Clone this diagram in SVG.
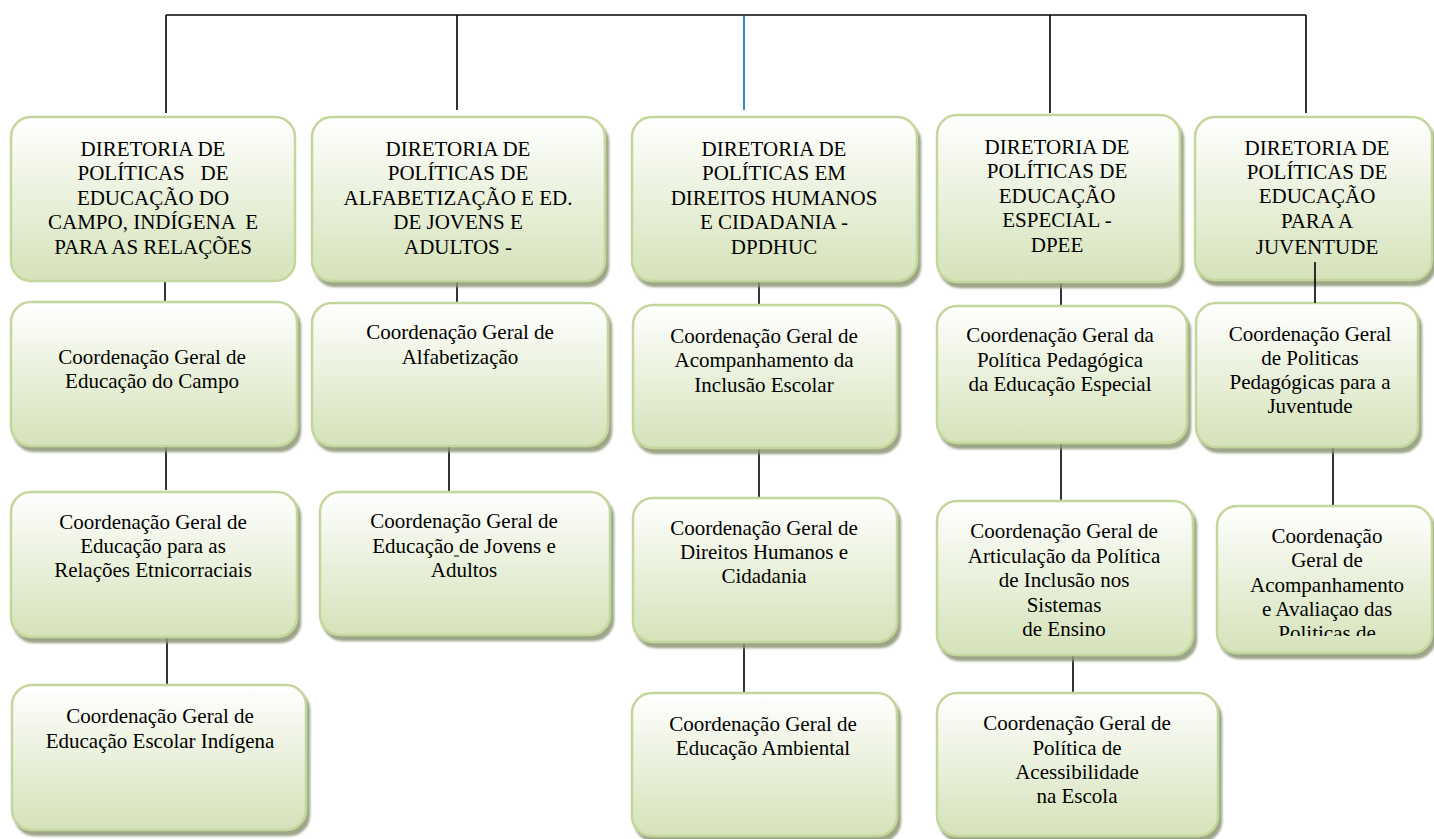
<svg xmlns="http://www.w3.org/2000/svg" width="1434" height="839" viewBox="0 0 1434 839">
<style>
.box{fill:url(#g);stroke:#c3d69b;stroke-width:2.5}
.sh{filter:url(#ds)}
.t{font-family:"Liberation Serif","Times New Roman",serif;font-size:21px;fill:#000;text-anchor:middle;white-space:pre}
.ln{stroke:#000;stroke-width:1.6;fill:none}
.bl{stroke:#0070c0;stroke-width:1.6;fill:none}
</style>
<defs>
<linearGradient id="g" x1="0" y1="0" x2="0" y2="1">
<stop offset="0" stop-color="#ffffff"/>
<stop offset="0.35" stop-color="#f0f5e6"/>
<stop offset="1" stop-color="#d5e2b9"/>
</linearGradient>
<filter id="ds" x="-5%" y="-5%" width="115%" height="120%">
<feDropShadow dx="3" dy="5" stdDeviation="1.2" flood-color="#8d9574" flood-opacity="0.85"/>
</filter>
<clipPath id="clipc5">
<rect x="1200" y="500" width="234" height="136"/>
</clipPath>
</defs>
<rect width="1434" height="839" fill="#fff"/>

<g id="connectors">
<path class="ln" d="M166 15H1306"/>
<path class="ln" d="M166 15V113"/>
<path class="ln" d="M457 15V110"/>
<path class="bl" d="M744 15V110"/>
<path class="ln" d="M1050 15V113"/>
<path class="ln" d="M1306 15V113"/>
<path class="ln" d="M165 281V302"/>
<path class="ln" d="M166 446V490"/>
<path class="ln" d="M167 637V685"/>
<path class="ln" d="M457 281V303"/>
<path class="ln" d="M449 446V492"/>
<path class="ln" d="M759 281V305"/>
<path class="ln" d="M759 448V498"/>
<path class="ln" d="M744 642V693"/>
<path class="ln" d="M1061 282V306"/>
<path class="ln" d="M1061 443V501"/>
<path class="ln" d="M1073 655V693"/>
<path class="ln" d="M1333 447V506"/>
</g>

<g id="dir1">
<rect class="box" x="11" y="117" width="284" height="164" rx="20"/>
<text class="t" xml:space="preserve"><tspan x="153" y="156">DIRETORIA DE</tspan><tspan x="153" y="180">POLÍTICAS   DE</tspan><tspan x="153" y="205">EDUCAÇÃO DO</tspan><tspan x="153" y="229">CAMPO, INDÍGENA  E</tspan><tspan x="153" y="254">PARA AS RELAÇÕES</tspan></text>
</g>
<g id="c1a">
<rect class="box sh" x="11" y="302" width="286" height="144" rx="20"/>
<text class="t"><tspan x="152" y="364">Coordenação Geral de</tspan><tspan x="152" y="388">Educação do Campo</tspan></text>
</g>
<g id="c1b">
<rect class="box sh" x="11" y="492" width="286" height="145" rx="20"/>
<text class="t"><tspan x="153" y="529">Coordenação Geral de</tspan><tspan x="153" y="553">Educação para as</tspan><tspan x="153" y="577">Relações Etnicorraciais</tspan></text>
</g>
<g id="c1c">
<rect class="box sh" x="12" y="685" width="294" height="145" rx="20"/>
<text class="t"><tspan x="160" y="723">Coordenação Geral de</tspan><tspan x="160" y="748">Educação Escolar Indígena</tspan></text>
</g>

<g id="dir2">
<rect class="box sh" x="312" y="117" width="293" height="164" rx="20"/>
<text class="t"><tspan x="458" y="156">DIRETORIA DE</tspan><tspan x="458" y="180">POLÍTICAS DE</tspan><tspan x="458" y="205">ALFABETIZAÇÃO E ED.</tspan><tspan x="458" y="229">DE JOVENS E</tspan><tspan x="458" y="254">ADULTOS -</tspan></text>
</g>
<g id="c2a">
<rect class="box sh" x="312" y="303" width="296" height="143" rx="20"/>
<text class="t"><tspan x="460" y="339">Coordenação Geral de</tspan><tspan x="460" y="364">Alfabetização</tspan></text>
</g>
<g id="c2b">
<rect class="box sh" x="320" y="492" width="290" height="143" rx="20"/>
<text class="t"><tspan x="464" y="528">Coordenação Geral de</tspan><tspan x="464" y="553">Educação de Jovens e</tspan><tspan x="464" y="577">Adultos</tspan></text>
<path d="M454 556H459" stroke="#000" stroke-width="1"/>
</g>

<g id="dir3">
<rect class="box sh" x="632" y="117" width="285" height="164" rx="20"/>
<text class="t"><tspan x="774" y="156">DIRETORIA DE</tspan><tspan x="774" y="180">POLÍTICAS EM</tspan><tspan x="774" y="205">DIREITOS HUMANOS</tspan><tspan x="774" y="229">E CIDADANIA -</tspan><tspan x="774" y="254">DPDHUC</tspan></text>
</g>
<g id="c3a">
<rect class="box sh" x="633" y="305" width="264" height="143" rx="20"/>
<text class="t"><tspan x="764" y="343">Coordenação Geral de</tspan><tspan x="764" y="367">Acompanhamento da</tspan><tspan x="764" y="392">Inclusão Escolar</tspan></text>
</g>
<g id="c3b">
<rect class="box sh" x="633" y="498" width="264" height="144" rx="20"/>
<text class="t"><tspan x="764" y="535">Coordenação Geral de</tspan><tspan x="764" y="559">Direitos Humanos e</tspan><tspan x="764" y="583">Cidadania</tspan></text>
</g>
<g id="c3c">
<rect class="box sh" x="632" y="693" width="265" height="143" rx="20"/>
<text class="t"><tspan x="763" y="731">Coordenação Geral de</tspan><tspan x="763" y="755">Educação Ambiental</tspan></text>
</g>

<g id="dir4">
<rect class="box sh" x="937" y="115" width="243" height="167" rx="20"/>
<text class="t"><tspan x="1057" y="154">DIRETORIA DE</tspan><tspan x="1057" y="178">POLÍTICAS DE</tspan><tspan x="1057" y="203">EDUCAÇÃO</tspan><tspan x="1057" y="227">ESPECIAL -</tspan><tspan x="1057" y="252">DPEE</tspan></text>
</g>
<g id="c4a">
<rect class="box sh" x="937" y="306" width="250" height="137" rx="20"/>
<text class="t"><tspan x="1060" y="342">Coordenação Geral da</tspan><tspan x="1060" y="367">Política Pedagógica</tspan><tspan x="1060" y="391">da Educação Especial</tspan></text>
</g>
<g id="c4b">
<rect class="box sh" x="937" y="501" width="256" height="154" rx="20"/>
<text class="t"><tspan x="1064" y="538">Coordenação Geral de</tspan><tspan x="1064" y="563">Articulação da Política</tspan><tspan x="1064" y="587">de Inclusão nos</tspan><tspan x="1064" y="612">Sistemas</tspan><tspan x="1064" y="636">de Ensino</tspan></text>
</g>
<g id="c4c">
<rect class="box sh" x="937" y="693" width="281" height="143" rx="20"/>
<text class="t"><tspan x="1077" y="730">Coordenação Geral de</tspan><tspan x="1077" y="755">Política de</tspan><tspan x="1077" y="779">Acessibilidade</tspan><tspan x="1077" y="803">na Escola</tspan></text>
</g>

<g id="dir5">
<rect class="box sh" x="1195" y="117" width="237" height="163" rx="20"/>
<text class="t"><tspan x="1317" y="155">DIRETORIA DE</tspan><tspan x="1317" y="179">POLÍTICAS DE</tspan><tspan x="1317" y="203">EDUCAÇÃO</tspan><tspan x="1317" y="228">PARA A</tspan><tspan x="1317" y="254">JUVENTUDE</tspan></text>
</g>
<g id="c5a">
<rect class="box sh" x="1196" y="303" width="222" height="144" rx="20"/>
<text class="t"><tspan x="1310" y="341">Coordenação Geral</tspan><tspan x="1310" y="365">de Politicas</tspan><tspan x="1310" y="389">Pedagógicas para a</tspan><tspan x="1310" y="413">Juventude</tspan></text>
</g>
<g id="c5b">
<rect class="box sh" x="1217" y="506" width="215" height="147" rx="20"/>
<text class="t" clip-path="url(#clipc5)"><tspan x="1327" y="543">Coordenação</tspan><tspan x="1327" y="567">Geral de</tspan><tspan x="1327" y="592">Acompanhamento</tspan><tspan x="1327" y="616">e Avaliaçao das</tspan><tspan x="1327" y="640">Politicas de</tspan></text>
</g>

<g id="connectors-over">
<path class="ln" d="M1315 262V303"/>
</g>
</svg>
